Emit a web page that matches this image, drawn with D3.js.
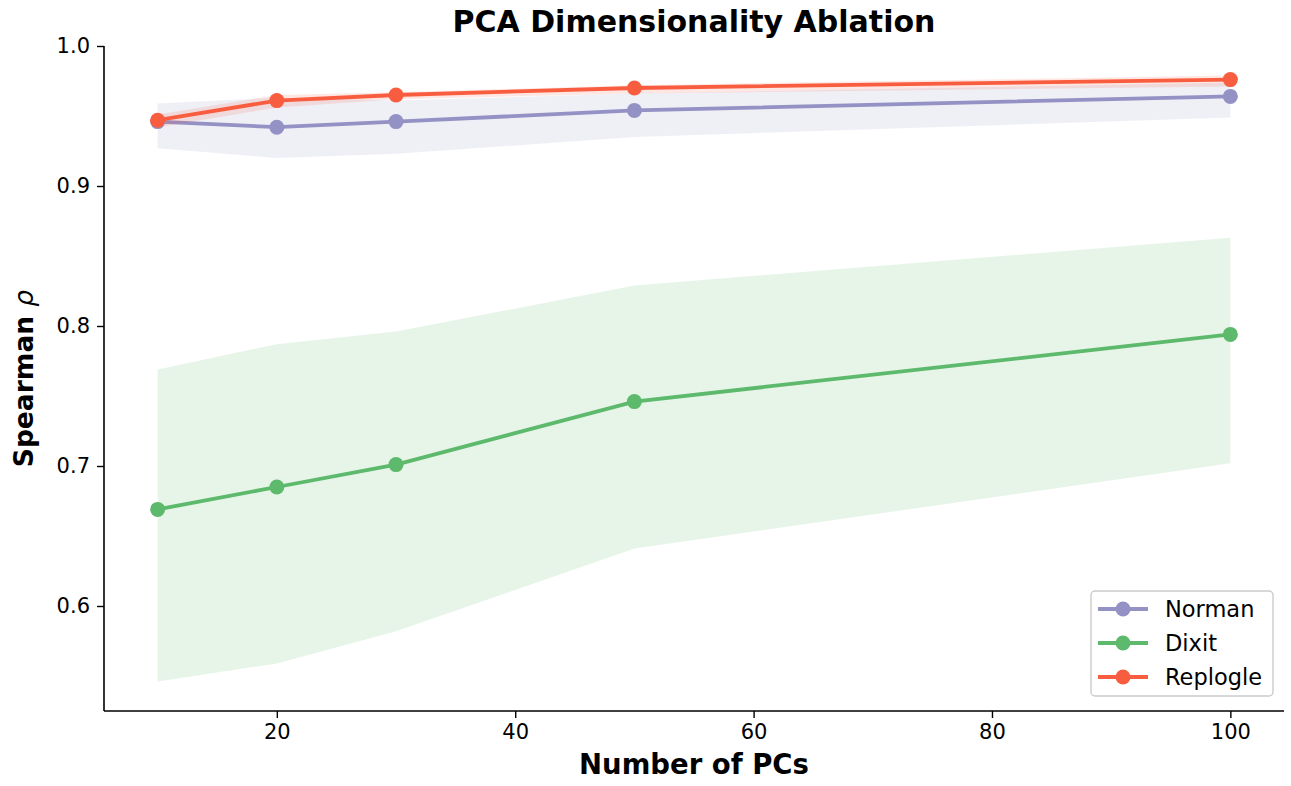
<!DOCTYPE html>
<html>
<head>
<meta charset="utf-8">
<script src="https://cdn.jsdelivr.net/npm/d3@7"></script>
<style>
  body { margin: 0; background: #fff; }
  svg { font-family: "DejaVu Sans", sans-serif; }
</style>
</head>
<body>
<div id="chart"></div>
<script>
// Number of principal components
const pcs = [10, 20, 30, 50, 100];

// Mean Spearman rho per dataset
const normanMean = [0.946, 0.942, 0.946, 0.954, 0.964];
const dixitMean = [0.669, 0.685, 0.701, 0.746, 0.794];
const replogleMean = [0.947, 0.961, 0.965, 0.970, 0.976];

// Band bounds
const normanLow = [0.927, 0.920, 0.923, 0.935, 0.949];
const normanHigh = [0.959, 0.963, 0.961, 0.966, 0.974];
const dixitLow = [0.546, 0.559, 0.582, 0.641, 0.702];
const dixitHigh = [0.769, 0.787, 0.796, 0.829, 0.863];
const replogleLow = [0.942, 0.956, 0.962, 0.966, 0.971];
const replogleHigh = [0.951, 0.965, 0.967, 0.972, 0.979];

const xTicks = [20, 40, 60, 80, 100];
const yTicks = [0.6, 0.7, 0.8, 0.9, 1.0];

const series = [
    { name: "Norman", color: "#9491C5", mean: normanMean, low: normanLow, high: normanHigh },
    { name: "Dixit", color: "#5DB96B", mean: dixitMean, low: dixitLow, high: dixitHigh },
    { name: "Replogle", color: "#F95D40", mean: replogleMean, low: replogleLow, high: replogleHigh }
];

const width = 1291, height = 786;
const margin = { top: 46, right: 7, bottom: 75, left: 104 };
const innerW = width - margin.left - margin.right;
const innerH = height - margin.top - margin.bottom;

const svg = d3.select("#chart").append("svg")
    .attr("width", width)
    .attr("height", height);

const g = svg.append("g")
    .attr("transform", `translate(${margin.left},${margin.top})`);

const x = d3.scaleLinear().domain([5.5, 104.5]).range([0, innerW]);
const y = d3.scaleLinear().domain([0.525, 1.0]).range([innerH, 0]);

// bands + lines + markers, drawn per series so later ones sit on top
const area = d3.area()
    .x((d, i) => x(pcs[i]))
    .y0(d => y(d[0]))
    .y1(d => y(d[1]));

const line = d3.line()
    .x((d, i) => x(pcs[i]))
    .y(d => y(d));

series.forEach(s => {
    const bounds = s.low.map((lo, i) => [lo, s.high[i]]);
    g.append("path")
        .attr("d", area(bounds))
        .attr("fill", s.color)
        .attr("fill-opacity", 0.15);

    g.append("path")
        .attr("d", line(s.mean))
        .attr("fill", "none")
        .attr("stroke", s.color)
        .attr("stroke-width", 3.8);

    g.selectAll(null)
        .data(s.mean)
        .enter()
        .append("circle")
        .attr("cx", (d, i) => x(pcs[i]))
        .attr("cy", d => y(d))
        .attr("r", 7.5)
        .attr("fill", s.color);
});

// axes
const xAxis = g.append("g")
    .attr("transform", `translate(0,${innerH})`)
    .call(d3.axisBottom(x).tickValues(xTicks).tickSize(7).tickPadding(6).tickFormat(d3.format("d")));

const yAxis = g.append("g")
    .call(d3.axisLeft(y).tickValues(yTicks).tickSize(7).tickPadding(7).tickFormat(d3.format(".1f")));

[xAxis, yAxis].forEach(a => {
    a.select(".domain").attr("stroke", "#000").attr("stroke-width", 1.6);
    a.selectAll(".tick line").attr("stroke", "#000").attr("stroke-width", 1.4);
    a.selectAll(".tick text")
        .attr("fill", "#000")
        .style("font-size", "21px")
        .style("font-family", "DejaVu Sans, sans-serif");
});
xAxis.select(".domain").attr("d", `M0,0H${innerW}`);
yAxis.select(".domain").attr("d", `M0,${innerH}V0`);

// title and labels
svg.append("text")
    .attr("x", margin.left + innerW / 2)
    .attr("y", 32)
    .attr("text-anchor", "middle")
    .style("font-size", "30px")
    .style("font-weight", "bold")
    .text("PCA Dimensionality Ablation");

svg.append("text")
    .attr("x", margin.left + innerW / 2)
    .attr("y", 774)
    .attr("text-anchor", "middle")
    .style("font-size", "27.5px")
    .style("font-weight", "bold")
    .text("Number of PCs");

const yLabel = svg.append("text")
    .attr("transform", `translate(33,${margin.top + innerH / 2}) rotate(-90)`)
    .attr("text-anchor", "middle")
    .style("font-size", "26.5px")
    .style("font-weight", "bold");
yLabel.append("tspan").text("Spearman ");
yLabel.append("tspan").attr("font-style", "italic").attr("font-weight", "normal").text("ρ");

// legend
const legend = svg.append("g").attr("transform", "translate(1091,591)");
legend.append("rect")
    .attr("width", 182)
    .attr("height", 105)
    .attr("rx", 4)
    .attr("fill", "#fff")
    .attr("fill-opacity", 0.8)
    .attr("stroke", "#cccccc")
    .attr("stroke-width", 1.4);

series.forEach((s, i) => {
    const row = legend.append("g").attr("transform", `translate(0,${18 + i * 34})`);
    row.append("line")
        .attr("x1", 7).attr("x2", 57)
        .attr("stroke", s.color)
        .attr("stroke-width", 3.8);
    row.append("circle")
        .attr("cx", 32)
        .attr("r", 7.5)
        .attr("fill", s.color);
    row.append("text")
        .attr("x", 74)
        .attr("dy", "0.35em")
        .style("font-size", "22.5px")
        .text(s.name);
});
</script>
</body>
</html>
